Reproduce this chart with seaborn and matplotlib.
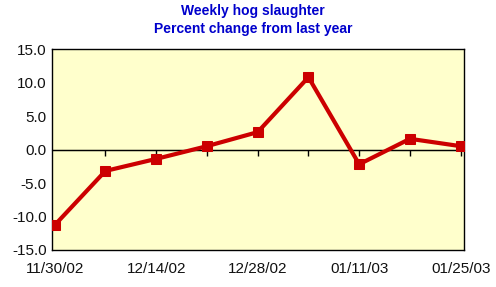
import matplotlib
matplotlib.use("Agg")
import matplotlib.pyplot as plt
import seaborn as sns
import pandas as pd

dates = ["11/30/02", "12/07/02", "12/14/02", "12/21/02", "12/28/02",
         "01/04/03", "01/11/03", "01/18/03", "01/25/03"]
pct_change = [-11.3, -3.2, -1.4, 0.5, 2.6, 10.8, -2.2, 1.6, 0.5]
y_ticks = [-15.0, -10.0, -5.0, 0.0, 5.0, 10.0, 15.0]

df = pd.DataFrame({"idx": range(len(dates)), "date": dates, "pct": pct_change})

sns.set_style("white")
plt.rcParams['font.family'] = ['Liberation Sans', 'DejaVu Sans']

fig = plt.figure(figsize=(4.96, 2.87), dpi=100)
ax = fig.add_axes([0.105, 0.129, 0.83, 0.700])
ax.set_facecolor("#FFFFCC")

ax.axhline(0, color="black", lw=1.0, zorder=1)
sns.lineplot(data=df, x="idx", y="pct", ax=ax, color="#CC0000", lw=3.0,
             marker="s", markersize=7, markeredgecolor="#CC0000", zorder=3)

ax.set_xlim(-0.05, len(dates) - 1 + 0.06)
ax.set_ylim(-15, 15)
ax.set_yticks(y_ticks)
ax.set_yticklabels([f"{v:.1f}" for v in y_ticks])
lab_idx = list(range(0, len(dates), 2))
ax.set_xticks(lab_idx)
ax.set_xticklabels([dates[i] for i in lab_idx])
ax.tick_params(axis="both", length=0, labelsize=11, colors="#111111", pad=4)
ax.tick_params(axis="x", pad=9)
ax.set_xlabel("")
ax.set_ylabel("")
for s in ax.spines.values():
    s.set_color("black")
    s.set_linewidth(1.0)

sec = ax.secondary_xaxis(0.5)
sec.set_xticks(list(range(1, len(dates))))
sec.set_xticklabels([])
sec.tick_params(axis="x", direction="in", length=4, width=1, color="black")
sec.spines["bottom"].set_visible(False)

fig.text(0.51, 0.960, "Weekly hog slaughter", ha="center", va="center",
         color="#0000CC", fontsize=10, fontweight="bold")
fig.text(0.51, 0.898, "Percent change from last year", ha="center", va="center",
         color="#0000CC", fontsize=10, fontweight="bold")

fig.savefig("out.png", dpi=100, facecolor="white")
